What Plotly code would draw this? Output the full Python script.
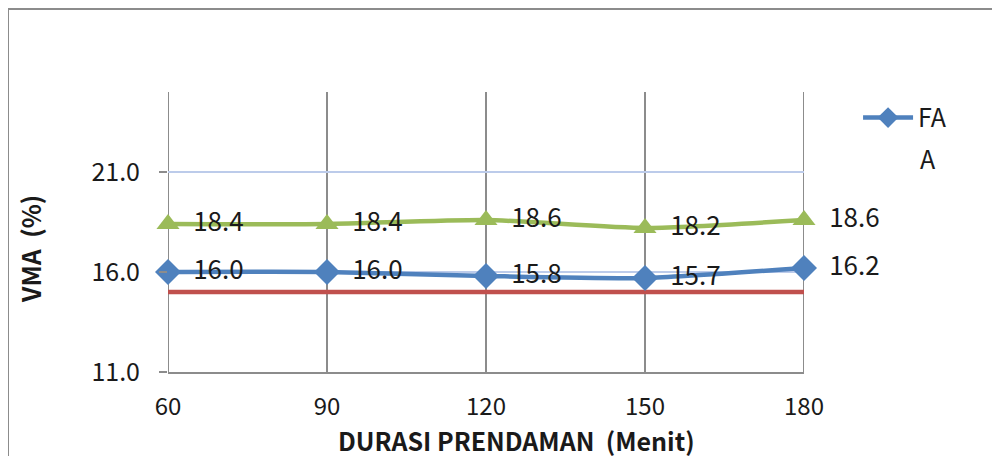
import plotly.graph_objects as go

durasi = [60, 90, 120, 150, 180]
vma_fa = [16.0, 16.0, 15.8, 15.7, 16.2]
vma_green = [18.4, 18.4, 18.6, 18.2, 18.6]
vma_spec = [15.0, 15.0, 15.0, 15.0, 15.0]
y_ticks = [11, 16, 21]
x_ticks = [60, 90, 120, 150, 180]

FONT = "Noto Sans CJK JP"
TXT = "#1a1a1a"
GRID = "#8C8C8C"

fig = go.Figure()

# vertical gridlines at every category (incl. range edges)
for xv in x_ticks:
    fig.add_shape(type="line", xref="x", yref="paper", x0=xv, x1=xv, y0=0, y1=1,
                  line=dict(color=GRID, width=2), layer="below")

fig.add_trace(go.Scatter(
    x=durasi, y=vma_spec, mode="lines",
    line=dict(color="#C0504D", width=4.5),
    showlegend=False, hoverinfo="skip"))

fig.add_trace(go.Scatter(
    x=durasi, y=vma_green, mode="lines+markers+text",
    line=dict(color="#9BBB59", width=4.5, shape="spline", smoothing=0.6),
    marker=dict(symbol="triangle-up", size=20, color="#9BBB59"),
    text=["  %.1f" % v for v in vma_green], textposition="middle right",
    textfont=dict(family=FONT, size=26, color=TXT),
    showlegend=False, cliponaxis=False))

fig.add_trace(go.Scatter(
    x=durasi, y=vma_fa, mode="lines+markers+text", name="FA",
    line=dict(color="#4F81BD", width=4.5, shape="spline", smoothing=0.6),
    marker=dict(symbol="diamond", size=20, color="#4F81BD"),
    text=["  %.1f" % v for v in vma_fa], textposition="middle right",
    textfont=dict(family=FONT, size=26, color=TXT),
    cliponaxis=False))

fig.update_layout(
    width=1000, height=456,
    margin=dict(l=160, r=204, t=84, b=92),
    paper_bgcolor="white", plot_bgcolor="white",
    font=dict(family=FONT, size=20, color=TXT),
    xaxis=dict(
        range=[60, 180], tickvals=x_ticks, ticktext=[str(v) for v in x_ticks],
        showgrid=False,
        showline=True, linecolor=GRID, linewidth=2,
        zeroline=False, ticks="", ticklabelstandoff=12, automargin=False,
        tickfont=dict(family=FONT, size=24, color=TXT),
    ),
    yaxis=dict(
        range=[11, 25], tickvals=y_ticks, ticktext=["%.1f" % v for v in y_ticks],
        showgrid=True, gridcolor="#BCCBEA", gridwidth=1.5,
        showline=False, zeroline=False, ticks="outside", ticklen=8,
        tickcolor=GRID, tickwidth=2, automargin=False,
        ticklabelstandoff=14,
        tickfont=dict(family=FONT, size=25, color=TXT),
    ),
    legend=dict(x=1.085, y=0.99, xanchor="left", yanchor="top",
                bgcolor="rgba(0,0,0,0)", itemwidth=50,
                font=dict(family=FONT, size=25, color=TXT)),
)

# axis titles
fig.add_annotation(xref="paper", yref="paper", x=(516-168)/636, y=-(440-372)/280,
                   xanchor="center", yanchor="middle", showarrow=False,
                   text="<b>DURASI PRENDAMAN  (Menit)</b>",
                   font=dict(family=FONT, size=25, color=TXT))
fig.add_annotation(xref="paper", yref="paper", x=-(168-30)/636, y=(372-249)/280,
                   xanchor="center", yanchor="middle", showarrow=False, textangle=-90,
                   text="<b>VMA  (%)</b>",
                   font=dict(family=FONT, size=25, color=TXT))

fig.add_annotation(xref="paper", yref="paper", x=(918-168)/636, y=(372-158)/280,
                   xanchor="left", yanchor="middle", showarrow=False,
                   text="A", font=dict(family=FONT, size=25, color=TXT))

# outer chart border (extends past the window on right/bottom)
fig.add_shape(type="rect", xref="paper", yref="paper",
              x0=-160/636, x1=1.5, y0=-0.5, y1=363/280,
              line=dict(color=GRID, width=2), layer="below")

fig.write_html("out.html")
